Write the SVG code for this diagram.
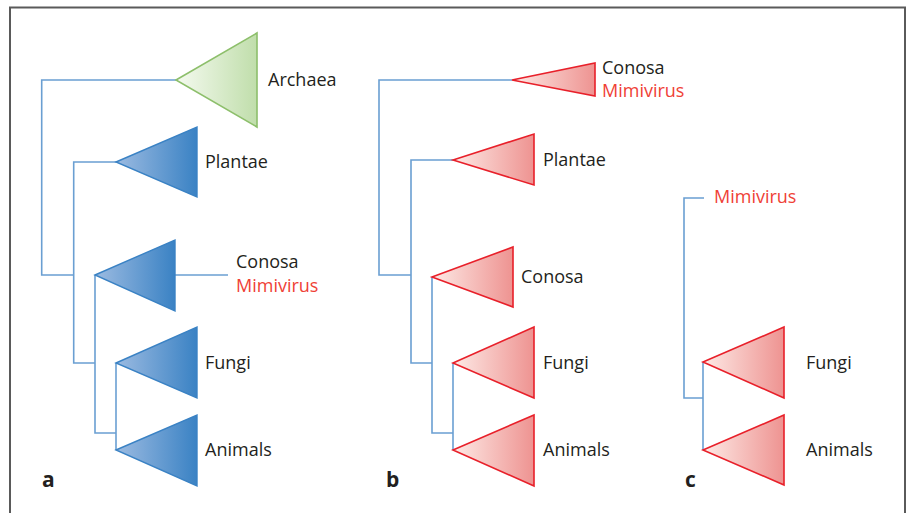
<svg xmlns="http://www.w3.org/2000/svg" width="911" height="513" viewBox="0 0 911 513">
<defs>
<linearGradient id="gBlue" x1="0" y1="0" x2="1" y2="0"><stop offset="0" stop-color="#9cbbe1"/><stop offset="1" stop-color="#3a82c4"/></linearGradient>
<linearGradient id="gRed" x1="0" y1="0" x2="1" y2="0"><stop offset="0" stop-color="#fdeae6"/><stop offset="1" stop-color="#ee9391"/></linearGradient>
<linearGradient id="gGreen" x1="0" y1="0" x2="1" y2="0"><stop offset="0" stop-color="#f5faf0"/><stop offset="1" stop-color="#c0deab"/></linearGradient>
</defs>
<style>
.t{font-family:"Open Sans","Liberation Sans",sans-serif;font-size:18px;fill:#231f20}
.m{fill:#ef4136}
.p{font-family:"Open Sans","Liberation Sans",sans-serif;font-size:21px;font-weight:bold;fill:#231f20}
.e{fill:none;stroke:#6a9fd2;stroke-width:1.6}
.tb{fill:url(#gBlue);stroke:#3a82c4;stroke-width:1.4;stroke-linejoin:miter}
.tr{fill:url(#gRed);stroke:#e8202a;stroke-width:1.6;stroke-linejoin:miter}
.tg{fill:url(#gGreen);stroke:#8dbf6b;stroke-width:1.6}
</style>
<rect width="911" height="513" fill="#ffffff"/>
<path d="M10,530 V7.5 H905 V530" fill="none" stroke="#5a5a5a" stroke-width="2"/>

<g id="connectors">
<!-- panel a -->
<path class="e" d="M176,80 H41.7 V275 H73.7"/>
<path class="e" d="M116,162 H73.7 V363 H95"/>
<path class="e" d="M95,275 V433 H116"/>
<path class="e" d="M116,363 V450"/>
<path class="e" d="M175,275 H228"/>
<!-- panel b -->
<path class="e" d="M512,80 H379 V275 H411"/>
<path class="e" d="M453,160 H411 V363 H432"/>
<path class="e" d="M432,277 V433 H453"/>
<path class="e" d="M453,363 V450"/>
<!-- panel c -->
<path class="e" d="M704,198 H684 V398 H703"/>
<path class="e" d="M703,362 V450"/>
</g>

<g id="a-archaea"><polygon class="tg" points="176,80 257,33 257,127"/><text class="t" x="268" y="86">Archaea</text></g>
<g id="a-plantae"><polygon class="tb" points="116,162 197,127 197,197"/><text class="t" x="205" y="168">Plantae</text></g>
<g id="a-conosa"><polygon class="tb" points="95,275 175,240 175,311"/><text class="t" x="236" y="268">Conosa</text><text class="t m" x="236" y="292">Mimivirus</text></g>
<g id="a-fungi"><polygon class="tb" points="116,363 197,327 197,398"/><text class="t" x="205" y="369">Fungi</text></g>
<g id="a-animals"><polygon class="tb" points="116,450 197,415 197,486"/><text class="t" x="205" y="456">Animals</text></g>
<text class="p" x="42" y="487">a</text>

<g id="b-conosa-mimivirus"><polygon class="tr" points="512,80 595,63 595,96"/><text class="t" x="602" y="74">Conosa</text><text class="t m" x="602" y="97">Mimivirus</text></g>
<g id="b-plantae"><polygon class="tr" points="453,160 534,134 534,185"/><text class="t" x="543" y="166">Plantae</text></g>
<g id="b-conosa"><polygon class="tr" points="432,277 513,247 513,307"/><text class="t" x="521" y="283">Conosa</text></g>
<g id="b-fungi"><polygon class="tr" points="453,363 534,327 534,398"/><text class="t" x="543" y="369">Fungi</text></g>
<g id="b-animals"><polygon class="tr" points="453,450 534,415 534,486"/><text class="t" x="543" y="456">Animals</text></g>
<text class="p" x="386" y="487">b</text>

<g id="c-mimivirus"><text class="t m" x="714" y="203">Mimivirus</text></g>
<g id="c-fungi"><polygon class="tr" points="703,362 784,327 784,398"/><text class="t" x="806" y="369">Fungi</text></g>
<g id="c-animals"><polygon class="tr" points="703,450 784,415 784,485"/><text class="t" x="806" y="456">Animals</text></g>
<text class="p" x="685" y="487">c</text>
</svg>
